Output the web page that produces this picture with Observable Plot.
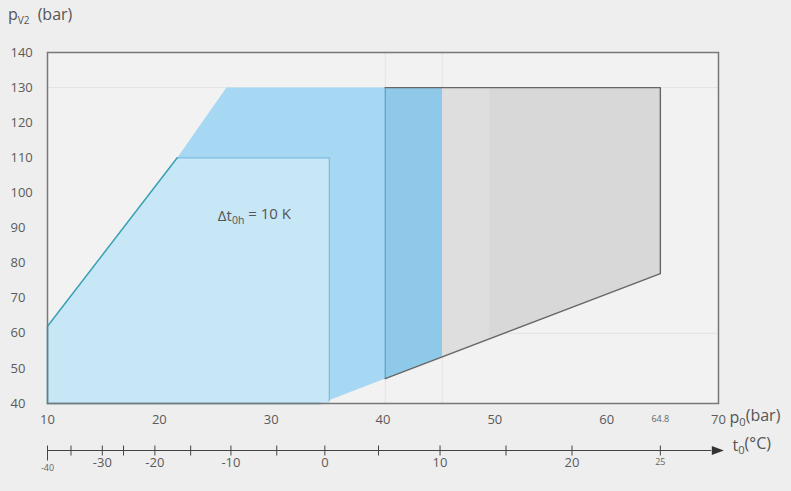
<!DOCTYPE html>
<html>
<head>
<meta charset="utf-8">
<script src="https://cdn.jsdelivr.net/npm/d3@7"></script>
<script src="https://cdn.jsdelivr.net/npm/@observablehq/plot@0.6"></script>
<style>
  body { margin: 0; background: #eeeeee; font-family: "Open Sans", sans-serif; }
  #title { height: 30px; box-sizing: border-box; padding: 4px 0 0 8px; font-size: 16px; color: #555; line-height: 20px; }
  #title sub { font-size: 10px; margin-right: 4px; }
  #chart svg { display: block; }
</style>
</head>
<body>
<div id="title">p<sub>V2</sub> (bar)</div>
<div id="chart"></div>
<script>
// ---------- data ----------
const pTicks = [10, 20, 30, 40, 50, 60, 70];               // p0 (bar) tick labels
const yTicks = [40, 50, 60, 70, 80, 90, 100, 110, 120, 130, 140];
// secondary axis: evaporating temperature t0 (°C) at saturation pressure p0 (bar)
const tempValues = [-40, -35, -30, -25, -20, -15, -10, -5, 0, 5, 10, 15, 20, 25];
const tempAtP    = [10.0, 12.1, 14.9, 16.8, 19.6, 22.8, 26.4, 30.5, 34.8, 39.6, 45.1, 51.0, 56.9, 64.8];
const tempLabeled = [-30, -20, -10, 0, 10, 20];
const tempLow = [-40];
const tempHigh = [25];
const pMaxLabel = 64.8;
const tAxisEnd = 69.4;

// envelope polygons (p0 in bar, pV2 in bar)
const outerP = [10, 10, 21.6, 26.0, 40.2, 40.2, 34.4];
const outerV = [40, 62, 110, 130, 130, 47.1, 40];
const innerP = [10, 10, 21.6, 35.2, 35.2];
const innerV = [40, 62, 110, 110, 40];
const bandP = [40.2, 45.3, 45.3, 40.2];
const bandV = [130, 130, 53.3, 47.1];
const grayP = [45.3, 64.8, 64.8, 45.3];
const grayV = [130, 130, 77, 53.3];
const stripP = [45.3, 49.5, 49.5, 45.3];
const stripV = [130, 130, 58.4, 53.3];
const boundaryP = [40.2, 64.8, 64.8, 40.2];
const boundaryV = [47.1, 77, 130, 130];
const slopeP = [10, 10, 21.6];
const slopeV = [40, 62, 110];
const label = {p: 28.5, v: 93.5, text: "Δt_{0h} = 10 K"};

// ---------- helpers ----------
const pts = (P, V) => P.map((p, i) => ({p, v: V[i]}));
const poly = (P, V, fill, extra = {}) =>
  Plot.line(pts(P, V), {x: "p", y: "v", fill, stroke: "none", curve: "linear-closed", ...extra});
const path = (P, V, stroke, strokeWidth = 1.3) =>
  Plot.line(pts(P, V), {x: "p", y: "v", stroke, strokeWidth, fill: "none"});

const tickSym = {draw(ctx) { ctx.moveTo(0, -5); ctx.lineTo(0, 5); }};
const longTickSym = {draw(ctx) { ctx.moveTo(0, -5); ctx.lineTo(0, 10); }};
const arrowSym = {draw(ctx) { ctx.moveTo(7, 0); ctx.lineTo(-5, -4.5); ctx.lineTo(-5, 4.5); ctx.closePath(); }};

const tempData = tempValues.map((t, i) => ({t, p: tempAtP[i]}));
const pick = list => tempData.filter(d => list.includes(d.t));

const AX = 47; // offset of secondary axis below the frame (px)

const chart = Plot.plot({
  width: 791,
  height: 461,
  marginTop: 22,
  marginLeft: 47,
  marginRight: 73,
  marginBottom: 88,
  x: {domain: [10, 70]},
  y: {domain: [40, 140]},
  style: {background: "transparent", fontFamily: "Open Sans, sans-serif", fontSize: "13px", color: "#555", overflow: "visible"},
  marks: [
    Plot.frame({fill: "#f2f2f2", stroke: "none"}),
    Plot.ruleX([40.2, 45.3], {stroke: "#e3e3e3"}),
    Plot.ruleY([130, 60], {stroke: "#e3e3e3"}),
    poly(outerP, outerV, "#a6d8f4"),
    poly(bandP, bandV, "#8fc9e9"),
    poly(grayP, grayV, "#d8d8d8"),
    poly(stripP, stripV, "#dedede"),
    poly(innerP, innerV, "#c7e6f6"),
    path([21.6, 35.2, 35.2], [110, 110, 40.8], "#7bbadf", 1.2),
    path([40.2, 40.2], [130, 47.1], "#5c9fc3", 1.2),
    path([10, 34.4], [40, 40], "#4a9dbf", 1.5),
    path(slopeP, slopeV, "#3aa1b5", 1.5),
    path(boundaryP, boundaryV, "#666", 1.4),
    Plot.frame({stroke: "#777", strokeWidth: 1.5}),
    Plot.text([label], {x: "p", y: "v", text: "text", fontSize: 15, fill: "#555"}),
    // primary axes
    Plot.axisY(yTicks, {tickSize: 0, tickPadding: 0, textAnchor: "start", dx: -37, fill: "#5a5a5a", fontSize: 13, label: null}),
    Plot.axisX(pTicks, {tickSize: 0, tickPadding: 11, fill: "#5a5a5a", fontSize: 13, label: null}),
    Plot.text([pMaxLabel], {x: d => d, text: d => String(d), frameAnchor: "bottom", dy: 18, fontSize: 9, fill: "#666"}),
    Plot.text(["p_{0}(bar)"], {frameAnchor: "bottom-right", dx: 11, dy: 19, textAnchor: "start", fontSize: 16, fill: "#555"}),
    // secondary temperature axis
    Plot.ruleY([40], {x1: tempAtP[0], x2: tAxisEnd, dy: AX, stroke: "#444", strokeWidth: 1}),
    Plot.dot(tempData.filter(d => d.t !== -40), {x: "p", frameAnchor: "bottom", dy: AX, symbol: tickSym, stroke: "#444", fill: "none", strokeWidth: 1}),
    Plot.dot(pick(tempLow), {x: "p", frameAnchor: "bottom", dy: AX, symbol: longTickSym, stroke: "#444", fill: "none", strokeWidth: 1}),
    Plot.dot([tAxisEnd], {x: d => d + 0.45, frameAnchor: "bottom", dy: AX, symbol: arrowSym, fill: "#333", stroke: "none"}),
    Plot.text(pick(tempLabeled), {x: "p", text: d => String(d.t), frameAnchor: "bottom", dy: AX + 16, fontSize: 13, fill: "#5a5a5a"}),
    Plot.text(pick(tempLow), {x: "p", text: d => String(d.t), frameAnchor: "bottom", dy: AX + 20, fontSize: 9, fill: "#666"}),
    Plot.text(pick(tempHigh), {x: "p", text: d => String(d.t), frameAnchor: "bottom", dy: AX + 14, fontSize: 9, fill: "#666"}),
    Plot.text(["t_{0}(°C)"], {frameAnchor: "bottom-right", dx: 14, dy: AX, textAnchor: "start", fontSize: 16, fill: "#555"})
  ]
});

// turn "_{...}" markers into real subscript tspans
function subscriptify(root) {
  root.querySelectorAll("text").forEach(t => {
    const targets = t.querySelector("tspan") ? [...t.querySelectorAll("tspan")] : [t];
    targets.forEach(el => {
      const s = el.textContent;
      if (!s.includes("_{")) return;
      el.textContent = "";
      const parts = s.split(/_\{([^}]*)\}/);
      let shifted = false;
      parts.forEach((part, i) => {
        if (part === "") return;
        const ts = document.createElementNS("http://www.w3.org/2000/svg", "tspan");
        ts.textContent = part;
        if (i % 2 === 1) {
          ts.setAttribute("dy", "0.35em");
          ts.setAttribute("font-size", "70%");
          shifted = true;
        } else if (shifted) {
          ts.setAttribute("dy", "-0.35em");
          shifted = false;
        }
        el.appendChild(ts);
      });
    });
  });
}
subscriptify(chart);
document.getElementById("chart").appendChild(chart);
</script>
</body>
</html>
